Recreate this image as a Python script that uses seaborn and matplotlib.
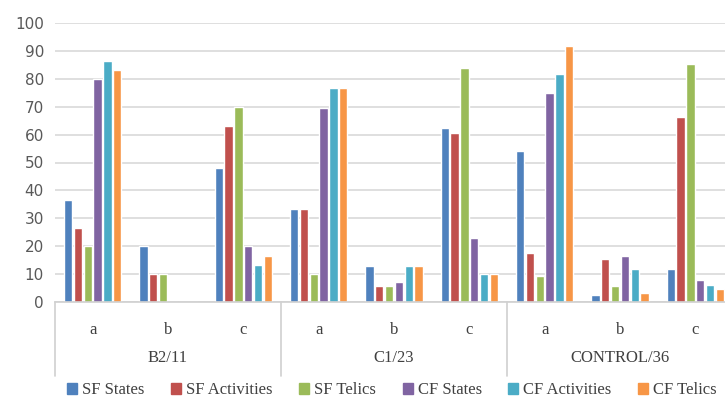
import numpy as np
import pandas as pd
import matplotlib.pyplot as plt
import seaborn as sns

# Groups and sub-categories on the x axis
groups = ['B2/11', 'C1/23', 'CONTROL/36']
subcats = ['a', 'b', 'c']
series = ['SF States', 'SF Activities', 'SF Telics', 'CF States', 'CF Activities', 'CF Telics']

# Values per series, in order B2/11 a,b,c  C1/23 a,b,c  CONTROL/36 a,b,c
sf_states = [36.4, 20.0, 48.2, 33.3, 12.8, 62.5, 54.2, 2.5, 11.8]
sf_activities = [26.6, 10.0, 63.0, 33.3, 5.6, 60.7, 17.5, 15.4, 66.3]
sf_telics = [20.0, 10.0, 70.0, 10.0, 5.6, 83.9, 9.3, 5.6, 85.2]
cf_states = [80.0, 0, 20.0, 69.6, 7.0, 22.8, 74.8, 16.6, 8.0]
cf_activities = [86.4, 0, 13.2, 76.8, 12.8, 10.0, 81.6, 11.8, 6.0]
cf_telics = [83.2, 0, 16.6, 76.8, 12.8, 10.0, 91.6, 3.4, 4.5]

colors = ['#4F81BD', '#C0504D', '#9BBB59', '#8064A2', '#4BACC6', '#F79646']

# long-form table for seaborn
keys = [g + '|' + s for g in groups for s in subcats]
rows = []
for name, vals in zip(series, [sf_states, sf_activities, sf_telics,
                               cf_states, cf_activities, cf_telics]):
    for k, v in zip(keys, vals):
        rows.append({'key': k, 'series': name, 'value': v})
df = pd.DataFrame(rows)

sns.set_style('white')
fig = plt.figure(figsize=(7.25, 4.0), dpi=100)
# plot area runs a little past the right edge, like the cropped original
ax = fig.add_axes([55 / 725, 98 / 400, 678 / 725, 279 / 400])

sns.barplot(data=df, x='key', y='value', hue='series', order=keys,
            hue_order=series, palette=colors, width=0.78, gap=0.15,
            saturation=1, ax=ax, legend=False)

ax.set_ylim(0, 100)
ax.set_xlim(-0.5, 8.5)
ax.set_yticks(np.arange(0, 101, 10))
ax.yaxis.grid(True, color='#D9D9D9', linewidth=1.2)
ax.set_axisbelow(True)
for sp in ['top', 'right', 'left']:
    ax.spines[sp].set_visible(False)
ax.spines['bottom'].set_color('#D0D0D0')
ax.spines['bottom'].set_linewidth(1.2)
ax.set_xlabel('')
ax.set_ylabel('')
ax.tick_params(axis='y', length=0, pad=8, labelsize=11, labelcolor='#595959')
ax.set_xticks([])

serif = ['Liberation Serif', 'DejaVu Serif']
for i, k in enumerate(keys):
    ax.annotate(k.split('|')[1], xy=(i, 0), xycoords=('data', 'axes fraction'),
                xytext=(0, -20.5), textcoords='offset points', ha='center', va='center',
                fontsize=12, family=serif, color='#404040')
for j, g in enumerate(groups):
    ax.annotate(g, xy=(j * 3 + 1, 0), xycoords=('data', 'axes fraction'),
                xytext=(0, -40.5), textcoords='offset points', ha='center', va='center',
                fontsize=12, family=serif, color='#404040')
for xb in [-0.5, 2.5, 5.5, 8.5]:
    ax.plot([xb, xb], [0, -0.265], transform=ax.get_xaxis_transform(),
            color='#D0D0D0', linewidth=1.2, clip_on=False)

handles = [plt.Rectangle((0, 0), 1, 1, color=c) for c in colors]
fig.legend(handles, series, loc='center', bbox_to_anchor=(392 / 725, 9.5 / 400),
           ncol=6, frameon=False, handlelength=0.6, handleheight=0.6,
           handletextpad=0.3, columnspacing=1.6, borderpad=0.2,
           prop={'family': serif, 'size': 12}, labelcolor='#404040')

fig.savefig('out.png', dpi=100)
